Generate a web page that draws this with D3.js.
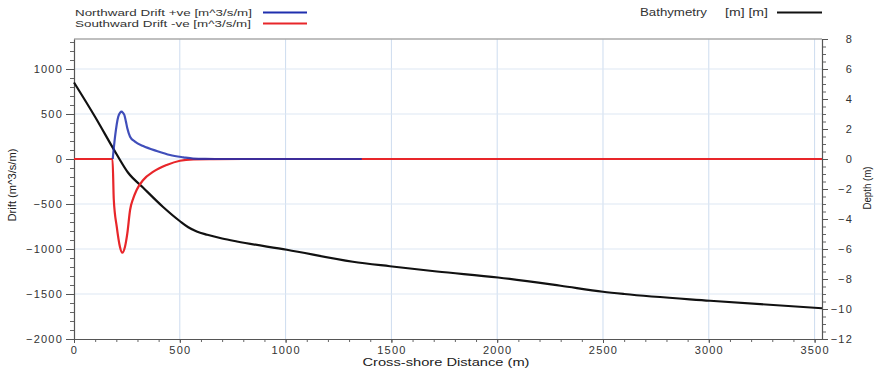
<!DOCTYPE html>
<html>
<head>
<meta charset="utf-8">
<script src="https://cdn.jsdelivr.net/npm/d3@7"></script>
<style>
  html, body { margin: 0; padding: 0; background: #fff; }
  svg { display: block; font-family: "Liberation Sans", Arial, sans-serif; }
  .tick text { fill: #333; }
</style>
</head>
<body>
<svg id="chart" width="877" height="369"></svg>
<script>
// Cross-shore distance (m) and bathymetry depth (m)
const bathDistance = [0, 100, 200, 255, 326, 421, 501, 540, 580, 630, 700, 770, 1006, 1318, 1493, 1715, 2004, 2300, 2500, 2600, 3006, 3535];
const bathDepth    = [5.1, 2.8, 0.35, -0.9, -1.9, -3.2, -4.15, -4.55, -4.83, -5.05, -5.3, -5.5, -6.05, -6.85, -7.15, -7.5, -7.9, -8.45, -8.85, -9.0, -9.45, -9.95];

// Northward drift (+ve), m^3/s/m
const northDistance = [183, 194, 209, 218, 225, 231, 238, 245, 252, 265, 288, 327, 391, 454, 517, 563, 620, 700, 900, 1100, 1360];
const northDrift    = [0, 248, 470, 515, 526, 515, 489, 420, 341, 248, 193, 144, 89, 44, 19, 5, 1, 0, 0, 0, 0];

// Southward drift (-ve), m^3/s/m
const southDistance = [0, 182, 188, 202, 217, 228, 241, 252, 265, 280, 296, 327, 375, 438, 501, 564, 640, 800, 1200, 2000, 3535];
const southDrift    = [0, 0, -450, -752, -974, -1041, -974, -826, -567, -437, -344, -233, -141, -67, -19, -4, -1, 0, 0, 0, 0];

// Axis ticks
const xTicks = [0, 500, 1000, 1500, 2000, 2500, 3000, 3500];
const driftTicks = [-2000, -1500, -1000, -500, 0, 500, 1000];
const depthTicks = [-12, -10, -8, -6, -4, -2, 0, 2, 4, 6, 8];

const svg = d3.select("#chart");
const plotLeft = 74, plotRight = 822, plotTop = 39, plotBottom = 339;

const x = d3.scaleLinear().domain([0, 3535]).range([plotLeft, plotRight]);
const yDrift = d3.scaleLinear().domain([-2000, 4000 / 3]).range([plotBottom, plotTop]);
const yDepth = d3.scaleLinear().domain([-12, 8]).range([plotBottom, plotTop]);

// Grid
const grid = svg.append("g");
grid.selectAll("line.v").data(xTicks.filter(d => d > 0)).join("line")
  .attr("x1", d => x(d)).attr("x2", d => x(d))
  .attr("y1", plotTop).attr("y2", plotBottom)
  .attr("stroke", "#cddcef").attr("stroke-width", 1);
grid.selectAll("line.h").data(driftTicks.filter(d => d > -2000)).join("line")
  .attr("x1", plotLeft).attr("x2", plotRight)
  .attr("y1", d => yDrift(d)).attr("y2", d => yDrift(d))
  .attr("stroke", "#dde7f3").attr("stroke-width", 1);

// Frame
svg.append("line").attr("x1", plotLeft).attr("x2", plotRight).attr("y1", plotTop).attr("y2", plotTop)
  .attr("stroke", "#aaa").attr("stroke-width", 1.5);

function styleAxis(g) {
  g.select(".domain").attr("stroke", "#555").attr("stroke-width", 1.2);
  g.selectAll(".tick line").attr("stroke", "#555");
  g.selectAll(".tick text").attr("font-size", 11).attr("letter-spacing", "1.2px");
}

// Minor ticks
svg.append("g").attr("transform", `translate(0,${plotBottom})`)
  .call(d3.axisBottom(x).tickValues(d3.range(0, 3536, 100)).tickSize(3).tickFormat(""))
  .call(g => { g.select(".domain").remove(); g.selectAll("line").attr("stroke", "#666"); });
svg.append("g").attr("transform", `translate(${plotLeft},0)`)
  .call(d3.axisLeft(yDrift).tickValues(d3.range(-2000, 1334, 100)).tickSize(4).tickFormat(""))
  .call(g => { g.select(".domain").remove(); g.selectAll("line").attr("stroke", "#666"); });
svg.append("g").attr("transform", `translate(${plotRight},0)`)
  .call(d3.axisRight(yDepth).tickValues(d3.range(-12, 8.01, 0.5)).tickSize(4).tickFormat(""))
  .call(g => { g.select(".domain").remove(); g.selectAll("line").attr("stroke", "#666"); });

// Major axes
svg.append("g").attr("transform", `translate(0,${plotBottom})`)
  .call(d3.axisBottom(x).tickValues(xTicks).tickSize(4).tickSizeOuter(0).tickPadding(3).tickFormat(d3.format("d")))
  .call(styleAxis);
svg.append("g").attr("transform", `translate(${plotLeft},0)`)
  .call(d3.axisLeft(yDrift).tickValues(driftTicks).tickSize(8).tickSizeOuter(0).tickPadding(3).tickFormat(d3.format("d")))
  .call(styleAxis);
const rAxis = svg.append("g").attr("transform", `translate(${plotRight},0)`)
  .call(d3.axisRight(yDepth).tickValues(depthTicks).tickSize(6).tickSizeOuter(0).tickPadding(3).tickFormat(d3.format("d")))
  .call(styleAxis);
rAxis.selectAll(".tick text").attr("text-anchor", "end").attr("x", 31);

// Series
const lineOf = (xs, ys, yScale) => d3.line()
  .x((d, i) => x(xs[i])).y((d, i) => yScale(ys[i]))
  .curve(d3.curveMonotoneX)(xs);

svg.append("path").attr("d", lineOf(bathDistance, bathDepth, yDepth))
  .attr("fill", "none").attr("stroke", "#111").attr("stroke-width", 2.2);
svg.append("path").attr("d", lineOf(southDistance, southDrift, yDrift))
  .attr("fill", "none").attr("stroke", "#e8262a").attr("stroke-width", 2.2);
svg.append("path").attr("d", lineOf(northDistance, northDrift, yDrift))
  .attr("fill", "none").attr("stroke", "#1f2fae").attr("stroke-width", 2.2).attr("stroke-opacity", 0.85);

// Axis titles
svg.append("text").attr("x", 446).attr("y", 366).attr("text-anchor", "middle")
  .attr("font-size", 11).attr("fill", "#222")
  .attr("textLength", 167).attr("lengthAdjust", "spacingAndGlyphs")
  .text("Cross-shore Distance (m)");
svg.append("text").attr("transform", "translate(16,185) rotate(-90)").attr("text-anchor", "middle")
  .attr("font-size", 10).attr("fill", "#222")
  .attr("textLength", 73).attr("lengthAdjust", "spacingAndGlyphs")
  .text("Drift (m^3/s/m)");
svg.append("text").attr("transform", "translate(871,188) rotate(-90)").attr("text-anchor", "middle")
  .attr("font-size", 10).attr("fill", "#222")
  .attr("textLength", 43).attr("lengthAdjust", "spacingAndGlyphs")
  .text("Depth (m)");

// Legend
const legend = [
  { label: "Northward Drift +ve [m^3/s/m]", color: "#1f2fae", tx: 75, y: 15.5, len: 177, lx1: 263, lx2: 307 },
  { label: "Southward Drift -ve [m^3/s/m]", color: "#e8262a", tx: 75, y: 26.5, len: 176, lx1: 263, lx2: 307 }
];
legend.forEach(d => {
  svg.append("text").attr("x", d.tx).attr("y", d.y).attr("font-size", 9.5).attr("fill", "#333")
    .attr("textLength", d.len).attr("lengthAdjust", "spacingAndGlyphs").text(d.label);
  svg.append("line").attr("x1", d.lx1).attr("x2", d.lx2).attr("y1", d.y - 3).attr("y2", d.y - 3)
    .attr("stroke", d.color).attr("stroke-width", 2.2);
});
svg.append("text").attr("x", 640).attr("y", 16).attr("font-size", 10).attr("fill", "#333")
  .attr("textLength", 67).attr("lengthAdjust", "spacingAndGlyphs").text("Bathymetry");
svg.append("text").attr("x", 725).attr("y", 16).attr("font-size", 10).attr("fill", "#333")
  .attr("textLength", 43).attr("lengthAdjust", "spacingAndGlyphs").text("[m] [m]");
svg.append("line").attr("x1", 777).attr("x2", 822).attr("y1", 12.5).attr("y2", 12.5)
  .attr("stroke", "#111").attr("stroke-width", 2.2);
</script>
</body>
</html>
